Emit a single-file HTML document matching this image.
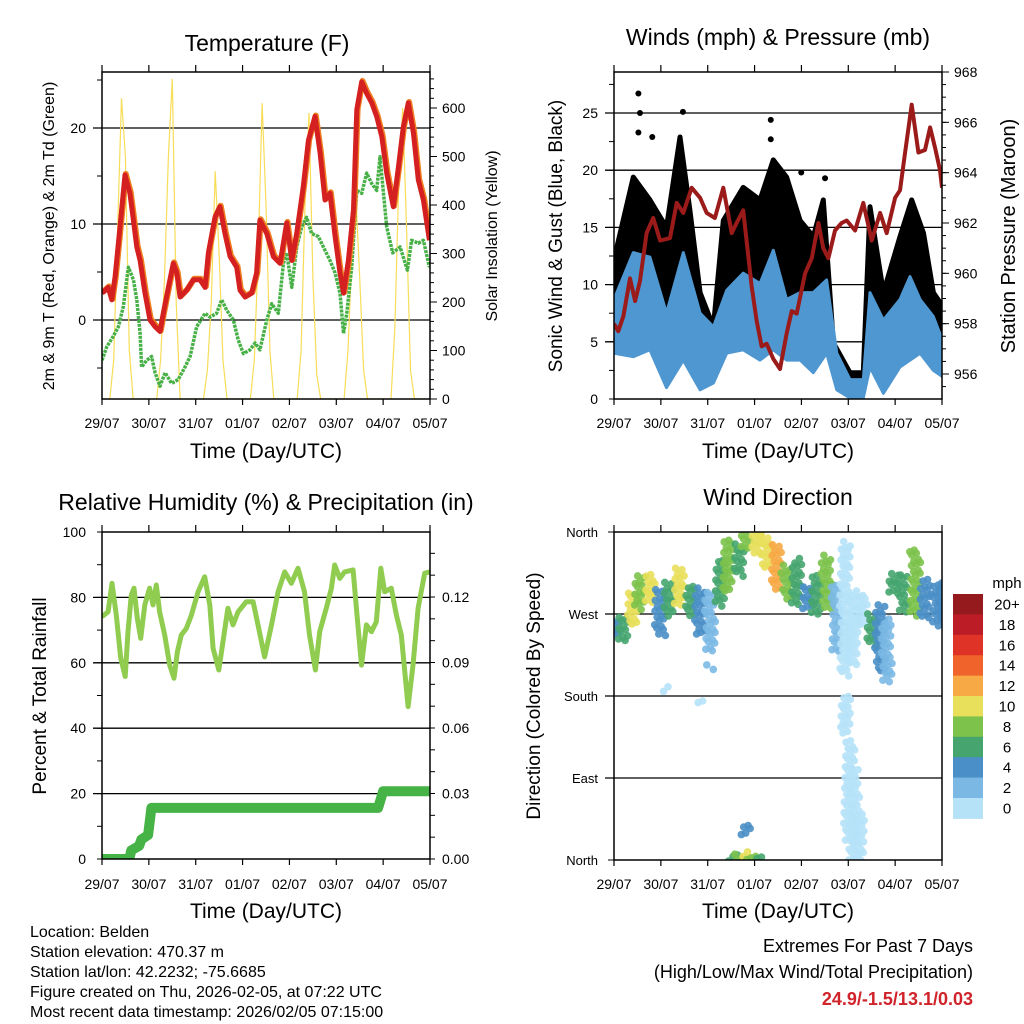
<!DOCTYPE html>
<html><head><meta charset="utf-8"><title>Belden station meteogram</title>
<style>
html,body{margin:0;padding:0;background:#fff;}
svg{display:block;font-family:"Liberation Sans",Arial,sans-serif;}
</style></head>
<body>
<svg id="chart" width="1024" height="1024" viewBox="0 0 1024 1024" xmlns="http://www.w3.org/2000/svg">
<rect x="0" y="0" width="1024" height="1024" fill="#fff"/>
<text x="267" y="51" font-size="23" text-anchor="middle">Temperature (F)</text>
<text x="778" y="45" font-size="23" text-anchor="middle">Winds (mph) &amp; Pressure (mb)</text>
<text x="266" y="510" font-size="23" text-anchor="middle">Relative Humidity (%) &amp; Precipitation (in)</text>
<text x="778" y="505" font-size="23" text-anchor="middle">Wind Direction</text>

<text transform="translate(54,236) rotate(-90)" font-size="16" text-anchor="middle">2m &amp; 9m T (Red, Orange) &amp; 2m Td (Green)</text>
<text transform="translate(497,236) rotate(-90)" font-size="16" text-anchor="middle">Solar Insolation (Yellow)</text>
<text transform="translate(562,236) rotate(-90)" font-size="19" text-anchor="middle">Sonic Wind &amp; Gust (Blue, Black)</text>
<text transform="translate(1015,236) rotate(-90)" font-size="20" text-anchor="middle">Station Pressure (Maroon)</text>
<text transform="translate(46,696) rotate(-90)" font-size="19" text-anchor="middle">Percent &amp; Total Rainfall</text>
<text transform="translate(540,696) rotate(-90)" font-size="19" text-anchor="middle">Direction (Colored By Speed)</text>

<text x="266" y="458" font-size="21" text-anchor="middle">Time (Day/UTC)</text>
<text x="778" y="458" font-size="21" text-anchor="middle">Time (Day/UTC)</text>
<text x="266" y="918" font-size="21" text-anchor="middle">Time (Day/UTC)</text>
<text x="778" y="918" font-size="21" text-anchor="middle">Time (Day/UTC)</text>

<g font-size="16">
<text x="30" y="937">Location: Belden</text>
<text x="30" y="957">Station elevation: 470.37 m</text>
<text x="30" y="977">Station lat/lon: 42.2232; -75.6685</text>
<text x="30" y="997">Figure created on Thu, 2026-02-05, at 07:22 UTC</text>
<text x="30" y="1017">Most recent data timestamp: 2026/02/05 07:15:00</text>
</g>
<g font-size="18" text-anchor="end">
<text x="973" y="952">Extremes For Past 7 Days</text>
<text x="973" y="978">(High/Low/Max Wind/Total Precipitation)</text>
<text x="973" y="1005" fill="#d0232a" font-weight="bold">24.9/-1.5/13.1/0.03</text>
</g>
<defs>
<clipPath id="c1"><rect x="102" y="72" width="328" height="327"/></clipPath>
<clipPath id="c2"><rect x="614" y="72" width="328" height="327"/></clipPath>
<clipPath id="c3"><rect x="102" y="532" width="328" height="327"/></clipPath>
<clipPath id="c4"><rect x="614" y="532" width="328" height="328"/></clipPath>
</defs>
</svg>
<script>
// ---------- data ----------
const dayLabels = ["29/07","30/07","31/07","01/07","02/07","03/07","04/07","05/07"];
const tempHours = [0,3.2,5,6.7,9.2,11.8,14.3,16.1,17.8,19.5,22,24.6,27.2,29.7,31.4,34,36.5,38.3,40,43.4,46.8,50.2,52.8,54.5,57.9,60.4,63,65.6,69,70.7,73.3,76.7,79.2,80.9,84.4,87.8,91.2,94.6,97.2,99.7,103.1,105.7,109.1,111.7,114.2,116.8,119.4,121.9,123.7,126.2,128.8,130.5,133,135.6,138.2,140.7,143.3,145.8,149.2,151.8,154.3,156.9,159.5,162,164.6,167.7];
const tempValues = [2.8,3.4,2.1,4.5,9.7,15.1,13.2,10.4,7.6,6.2,2.8,0,-0.7,-1.2,0.7,3.4,5.9,4.9,2.4,3.1,4.2,4.2,3.4,7,10.7,11.8,9,6.6,5.5,3.1,2.4,2.8,4.9,10.4,9,6.6,5.9,10.1,6.2,9,13.9,18.7,21.2,17.4,12.5,13.2,8.7,4.9,2.8,6.2,11.5,21.9,24.8,23.6,22.6,21.2,19.1,15.3,11.8,15.9,20.1,22.6,19.5,14.6,12.5,8.3];
const dewHours = [0,2.4,5.8,8.4,10.9,13.5,16.1,17.8,19.5,20.3,22.9,25.4,27.2,29.7,32.3,35.7,39.1,42.5,45.1,48.5,52.8,55.3,58.7,61.3,63.9,67.3,69.8,72.4,75.8,78.4,80.9,84.4,86.9,90.3,92.9,94.6,97.2,99.7,102.3,104.8,107.4,110.8,113.4,116.8,119.4,121.9,123.7,125.4,127.9,130.5,133,135.6,138.2,140.7,142.4,145.8,148.9,152.7,156.4,158.6,162,164.6,167.7];
const dewValues = [-4.2,-2.8,-1.7,-0.7,1.4,5.5,4.2,2.1,-1.4,-4.9,-4.2,-3.8,-5.5,-6.9,-5.5,-6.6,-6.2,-4.9,-3.8,-0.7,0.7,0.3,0.7,2.1,1,0,-2.1,-3.5,-3.1,-2.4,-3.1,0,1.7,0.7,5.9,7,3.4,7.6,9.7,10.7,9,8.7,7.6,6.2,4.9,2.8,-1.4,0.7,5.5,13.5,13.2,15.3,14.2,13.5,17,9.7,7,7.6,5.2,8.3,8,8.3,5.5];
// solar insolation every 2 hours from 29/07 00 UTC
const solarValues = [0,0,0,80,350,620,500,100,0,0,0,0,
 0,0,0,80,250,500,660,200,0,0,0,0,
 0,0,0,60,200,470,300,80,0,0,0,0,
 0,0,0,80,300,610,400,100,0,0,0,0,
 0,0,0,100,400,590,250,50,0,0,0,0,
 0,0,0,100,300,420,250,60,0,0,0,0,
 0,0,0,150,450,600,350,60,0,0,0,0,0];
const windHours = [0,9.9,18.4,26.9,35.5,44.1,50.9,57.7,66.2,74.8,81.6,88.4,95.3,102.1,108.9,114.1,120.9,127.7,131.1,138,146.5,151.6,156.8,163.6,168.7];
const windLo = [4,3.7,4.3,1,3.4,0.8,1.4,4,4.3,3.4,4.3,3.4,3.4,2.3,4,0.8,0.1,0.1,2.8,0.5,2.8,3.4,4,2.5,1.9];
const windHi = [8.7,12.8,12.4,7.5,12.8,7.5,6.3,9.5,11,10.1,13,8.7,9.3,9.3,10.4,4,1.7,1.7,9.3,6.9,8.7,10.7,8.7,7.2,4.9];
const gustHours = [0,9.9,18.4,26.9,33.8,38.9,44.1,50.9,56,66.2,74.8,81.6,88.4,95.3,102.1,107.2,112.4,120.9,127.7,131.1,138,146.5,152.5,158.5,163.6,168.7];
const gustLo = [6.3,9.3,9.3,6.3,12.2,6.3,3.4,3.4,6.3,6.3,7.8,9.3,7.8,7.8,6.3,9.3,3.4,0.8,0.8,6.3,3.4,6.3,9.3,6.3,4.9,3.4];
const gustHi = [12.2,19.4,17.4,15,22.9,16.5,9.3,6.3,15.6,18.5,17.4,20.9,19.4,15.6,14.2,17.4,4.9,2.3,2.3,16.8,9.3,14.2,17.4,14.5,9.3,8];
const gustOutlierHours = [12.5,13.3,35.3,80.3,12.5,19.6,80.3,108.1,95.9];
const gustOutlierValues = [26.7,25,25.1,24.4,23.3,22.9,22.7,19.3,19.8];
const pressHours = [0,2.2,4.8,8.2,10.8,13.3,16.7,20.1,23.6,28.7,32.1,35.5,39.8,44.1,47.5,51.7,56,60.3,62.8,66.2,70.5,73.1,75.6,78.2,81.6,85,88.4,91,93.6,97.9,101.3,104.7,107.2,109.8,113.2,116.6,119.2,123.5,127.7,132,136.3,139.7,144,146.5,149.1,152.5,155.9,159.3,161.9,164.4,167,168];
const pressValues = [958,957.7,958.3,959.8,958.9,959.7,961.6,962.2,961.3,961.4,962.8,962.4,963.4,963,962.4,962.2,963.4,961.6,962,962.5,959.5,958.1,957.1,957.2,956.6,956.2,957.6,958.5,958.4,960,960.6,962,961,960.6,961.7,962,962.1,961.7,962.8,961.3,962.4,961.6,963,963.3,964.8,966.7,964.8,964.9,965.8,965,964.1,963.4];
const rhHours = [0,3.1,5.1,7.3,9.6,11.9,13.3,15,16.4,18.1,19.8,21.9,24.4,26.1,27.8,29.5,32.1,34.7,36.9,38.6,40.6,43.2,45.8,49.2,52.6,55.2,56.9,59.8,62,64.5,67.1,69.7,73.9,77.4,79.9,83.3,86.8,90.2,93.6,97,100.4,103.7,106.3,109.3,111.5,114.9,117.5,119.2,121.8,124.3,128.6,130.3,132.9,135.4,138,140.5,142.8,144.8,148.2,150.8,153.3,156.8,159.3,161.9,165.3,167.9];
const rhValues = [74.1,75.6,84.3,74.6,61.5,55.8,69.5,80.7,82.8,73.6,67.5,77.7,82.8,77.7,83.8,75.6,68.5,59.3,55.3,63.4,68.5,70.5,74.6,81.7,86.3,77.7,64.4,57.8,66.5,76.7,71.6,75.6,78.7,78.7,71.6,61.8,71.6,81.7,87.8,84.3,88.9,81.7,68.5,57.8,69.5,76.7,82.8,89.9,85.8,87.8,88.4,76.7,59.3,71.6,69.5,72.5,88.9,81.7,82.8,74.6,68.5,46.6,59.3,76.7,87.4,87.8];
const precipHours = [0,14,15,19,20.2,23.6,25.3,141.4,144,168];
const precipValues = [0,0,0.004,0.006,0.009,0.011,0.0234,0.0234,0.031,0.031];
const dirHours = [0.5,4.8,9.1,13.3,18.4,23.6,27.8,33.8,38.9,44.1,49.2,54.3,58.6,63.7,67.9,73.1,78.2,83.3,88.4,93.6,98.7,103.8,108.9,114.1,118.3,122.6,127.7,132,136.3,139.7,143.1,148.2,154.2,159.3,165.3,168.7,
  120.5,123,125.5,119,61,64,67,70,74,67,27,45.8,49];
const dirLo = [247,240,258,276,283,247,269,280,269,247,229,280,294,313,342,335,320,298,287,280,276,269,276,229,203,214,258,236,207,196,294,273,269,265,262,258,
  20,0,0,140,0,0,0,0,0,28,186,172,210];
const dirHi = [265,269,294,313,313,298,305,320,302,298,294,331,353,346,360,360,357,346,324,331,302,313,335,302,349,294,291,269,280,265,316,313,342,309,302,305,
  130,100,50,180,5,6,8,6,4,40,190,176,214];
const dirSpeed = [5,7,10,9,10,4,7,11,6,4,2,7,8,7,9,10,11,12,8,6,5,7,8,2,1,1,1,7,4,3,7,7,9,5,5,4,
  1,0.5,1,1,7,8,10,8,7,4,1,1,3];
const speedBinLabels = ["20+","18","16","14","12","10","8","6","4","2","0"];
const speedColors = ["#951a1d","#bb1c25","#df3328","#f0632a","#f6a945","#e8df5a","#7cc24b","#46a56f","#4a8fc7","#7bb9e4","#b6e2f8"];

// ---------- helpers ----------
const NS = "http://www.w3.org/2000/svg";
const svg = document.getElementById("chart");
function mk(tag, attrs, parent) {
  const e = document.createElementNS(NS, tag);
  for (const k in attrs) e.setAttribute(k, attrs[k]);
  (parent || svg).appendChild(e);
  return e;
}
function lin(d0, d1, r0, r1) { return v => r0 + (v - d0) * (r1 - r0) / (d1 - d0); }

const P = {
  t: {x0:102, x1:430, top:72, bot:399, clip:"c1"},
  w: {x0:614, x1:942, top:72, bot:399, clip:"c2"},
  r: {x0:102, x1:430, top:532, bot:859, clip:"c3"},
  d: {x0:614, x1:942, top:532, bot:860, clip:"c4"}
};
const xT = lin(0,168,P.t.x0,P.t.x1), xW = lin(0,168,P.w.x0,P.w.x1);
const xR = lin(0,168,P.r.x0,P.r.x1), xD = lin(0,168,P.d.x0,P.d.x1);
const yTemp = lin(0,10,320,224);
const ySolar = lin(0,600,399,108);
const yWind = lin(0,25,399,113);
const yPress = lin(956,968,374,72);
const yRH = lin(0,100,859,532);
const yPrecip = lin(0,0.12,859,597);
const yDir = lin(0,360,860,532);

function gridLine(p, y, name) {
  const l = mk("line", {x1:p.x0-9, x2:p.x1, y1:y, y2:y, stroke:"#000", "stroke-width":1.3});
  
  
}
function frame(p, name) {
  const r = mk("rect", {x:p.x0, y:p.top, width:p.x1-p.x0, height:p.bot-p.top, fill:"none", stroke:"#000", "stroke-width":1.5});
  
  
}
function xAxis(p, xs, labelY, prefix) {
  for (let i = 0; i < dayLabels.length; i++) {
    const x = xs(i*24);
    const t1 = mk("line", {x1:x, x2:x, y1:p.bot, y2:p.bot+6, stroke:"#000", "stroke-width":1.2});
    
    
    const t2 = mk("line", {x1:x, x2:x, y1:p.top-7, y2:p.top, stroke:"#000", "stroke-width":1.2});
    
    
    const tx = mk("text", {x:x, y:labelY, "font-size":14, "text-anchor":"middle"});
    tx.textContent = dayLabels[i];
    
    
  }
}
function yTicks(p, side, values, ys, len, labels, prefix, fs) {
  for (let i = 0; i < values.length; i++) {
    const y = ys(values[i]);
    const x = side === "left" ? p.x0 : p.x1;
    const dx = side === "left" ? -len : len;
    const t = mk("line", {x1:x, x2:x+dx, y1:y, y2:y, stroke:"#000", "stroke-width":1});
    
    
    if (labels && labels[i] !== null && labels[i] !== undefined) {
      const tx = mk("text", {x: side === "left" ? p.x0-16 : p.x1+12, y:y+5, "font-size":fs||14, "text-anchor": side === "left" ? "end" : "start"});
      tx.textContent = labels[i];
      
      
    }
  }
}
function pathFrom(hs, vs, xs, ys) {
  let d = "";
  for (let i = 0; i < hs.length; i++) d += (i ? "L" : "M") + xs(hs[i]).toFixed(1) + "," + ys(vs[i]).toFixed(1);
  return d;
}
function bandFrom(hs, lo, hi, xs, ys) {
  let d = "";
  for (let i = 0; i < hs.length; i++) d += (i ? "L" : "M") + xs(hs[i]).toFixed(1) + "," + ys(hi[i]).toFixed(1);
  for (let i = hs.length-1; i >= 0; i--) d += "L" + xs(hs[i]).toFixed(1) + "," + ys(lo[i]).toFixed(1);
  return d + "Z";
}
function speedColor(s) {
  let bin = Math.floor(s/2); if (bin > 10) bin = 10;
  return speedColors[10 - bin];
}

// ---------- panel 1: temperature ----------
[0,10,20].forEach(v => gridLine(P.t, yTemp(v), "temperature-gridline"));
const g1 = mk("g", {"clip-path":"url(#c1)"});


const solHours = solarValues.map((v,i) => i*2);
const solar = mk("path", {d:pathFrom(solHours, solarValues, xT, ySolar), fill:"none", stroke:"#f8dd58", "stroke-width":1.2}, g1);


const dew = mk("path", {d:pathFrom(dewHours, dewValues, xT, yTemp), fill:"none", stroke:"#47b047", "stroke-width":3.5, "stroke-dasharray":"3 1", "stroke-linejoin":"round"}, g1);


const t9 = mk("path", {d:pathFrom(tempHours, tempValues, xT, yTemp), fill:"none", stroke:"#f07f22", "stroke-width":6, "stroke-linejoin":"round", transform:"translate(0.8,-1)"}, g1);


const t2 = mk("path", {d:pathFrom(tempHours, tempValues, xT, yTemp), fill:"none", stroke:"#d42020", "stroke-width":5, "stroke-linejoin":"round"}, g1);


frame(P.t, "temperature-frame");
xAxis(P.t, xT, 428, "temperature");
yTicks(P.t, "left", [-5,0,5,10,15,20,25], yTemp, 5, [null,"0",null,"10",null,"20",null], "temperature-y", 14);
const solTickVals = []; for (let v = 0; v <= 660; v += 20) solTickVals.push(v);
yTicks(P.t, "right", solTickVals, ySolar, 4, null, "solar-minor", 14);
yTicks(P.t, "right", [0,100,200,300,400,500,600], ySolar, 7, ["0","100","200","300","400","500","600"], "solar-y", 14);

// ---------- panel 2: winds ----------
[5,10,15,20,25].forEach(v => gridLine(P.w, yWind(v), "wind-gridline"));
const g2 = mk("g", {"clip-path":"url(#c2)"});


const gust = mk("path", {d:bandFrom(gustHours, gustLo, gustHi, xW, yWind), fill:"#000", stroke:"#000", "stroke-width":5, "stroke-linejoin":"round"}, g2);


for (let i = 0; i < gustOutlierHours.length; i++) {
  const c = mk("circle", {cx:xW(gustOutlierHours[i]), cy:yWind(gustOutlierValues[i]), r:3, fill:"#000"}, g2);
  
  
}
const wind = mk("path", {d:bandFrom(windHours, windLo, windHi, xW, yWind), fill:"#4f97d1", stroke:"#4f97d1", "stroke-width":3, "stroke-linejoin":"round"}, g2);


const press = mk("path", {d:pathFrom(pressHours, pressValues, xW, yPress), fill:"none", stroke:"#9b1b1b", "stroke-width":4, "stroke-linejoin":"round"}, g2);


frame(P.w, "wind-frame");
xAxis(P.w, xW, 428, "wind");
yTicks(P.w, "left", [0,2.5,5,7.5,10,12.5,15,17.5,20,22.5,25,27.5], yWind, 5, ["0",null,"5",null,"10",null,"15",null,"20",null,"25",null], "wind-y", 14);
const pTickVals = []; for (let v = 955.5; v <= 968; v += 0.5) pTickVals.push(v);
yTicks(P.w, "right", pTickVals, yPress, 4, null, "pressure-minor", 14);
yTicks(P.w, "right", [956,958,960,962,964,966,968], yPress, 7, ["956","958","960","962","964","966","968"], "pressure-y", 14);

// ---------- panel 3: humidity ----------
[20,40,60,80].forEach(v => gridLine(P.r, yRH(v), "humidity-gridline"));
const g3 = mk("g", {"clip-path":"url(#c3)"});


const rh = mk("path", {d:pathFrom(rhHours, rhValues, xR, yRH), fill:"none", stroke:"#8fcc4f", "stroke-width":5, "stroke-linejoin":"round"}, g3);


const pr = mk("path", {d:pathFrom(precipHours, precipValues, xR, yPrecip), fill:"none", stroke:"#46b347", "stroke-width":10, "stroke-linejoin":"round", "stroke-linecap":"round"}, g3);


frame(P.r, "humidity-frame");
xAxis(P.r, xR, 889, "humidity");
yTicks(P.r, "left", [0,10,20,30,40,50,60,70,80,90,100], yRH, 5, ["0",null,"20",null,"40",null,"60",null,"80",null,"100"], "humidity-y", 14);
yTicks(P.r, "right", [0,0.01,0.02,0.03,0.04,0.05,0.06,0.07,0.08,0.09,0.1,0.11,0.12,0.13,0.14], yPrecip, 5, ["0.00",null,null,"0.03",null,null,"0.06",null,null,"0.09",null,null,"0.12",null,null], "precip-y", 14);

// ---------- panel 4: wind direction ----------
[90,180,270].forEach(v => gridLine(P.d, yDir(v), "direction-gridline"));
const g4 = mk("g", {"clip-path":"url(#c4)"});


let k = 0;
for (let i = 0; i < dirHours.length; i++) {
  const col = speedColor(dirSpeed[i]);
  for (let a = dirLo[i]; a <= dirHi[i] + 0.01; a += 2.5) {
    k++;
    const dx = (((k * 7919) % 101) / 101 - 0.5) * 11;
    const dy = (((k * 331) % 53) / 53 - 0.5) * 3;
    const c = mk("circle", {cx:(xD(dirHours[i]) + dx).toFixed(1), cy:(yDir(a) + dy).toFixed(1), r:3.8, fill:col, "fill-opacity":0.9}, g4);
    
    
  }
}
frame(P.d, "direction-frame");
xAxis(P.d, xD, 889, "direction");
yTicks(P.d, "left", [0,90,180,270,360], yDir, 6, ["North","East","South","West","North"], "direction-y", 13);

// colorbar
for (let i = 0; i < speedColors.length; i++) {
  const y = 594 + i*20.4;
  const r = mk("rect", {x:953, y:y.toFixed(1), width:30, height:20.9, fill:speedColors[i]});
  
  
  const t = mk("text", {x:1007, y:(y+15.5).toFixed(1), "font-size":15, "text-anchor":"middle"});
  t.textContent = speedBinLabels[i];
  
  
}
const mph = mk("text", {x:1007, y:588, "font-size":15, "text-anchor":"middle"});
mph.textContent = "mph";


</script>
</body></html>
